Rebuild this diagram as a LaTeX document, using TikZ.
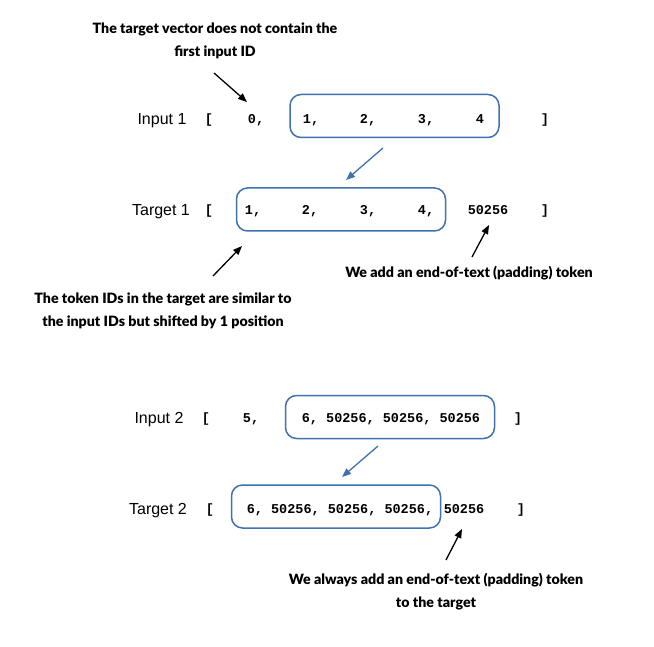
\documentclass[tikz,border=0pt]{standalone}
\usepackage{fontspec}
\setmainfont{Liberation Sans}
\newfontfamily\notefont[BoldFont={Lato Black}]{Lato}
\newfontfamily\codefont{Liberation Mono}
\usetikzlibrary{arrows.meta}
\definecolor{boxblue}{RGB}{62,114,176}
\begin{document}
\begin{tikzpicture}[x=1pt,y=-1pt,
  rowlabel/.style={anchor=base, inner sep=0pt, font=\fontsize{16}{18}\selectfont},
  tok/.style={anchor=base, inner sep=0pt, font=\codefont\bfseries\fontsize{13.5}{15}\selectfont},
  note/.style={align=center, inner sep=0pt, font=\notefont\bfseries\fontsize{14.2}{23}\selectfont},
  idbox/.style={draw=boxblue, line width=1.5pt, rounded corners=11pt, minimum width=209pt, minimum height=43pt, inner sep=0pt},
  callout/.style={-{Triangle[length=9pt,width=7pt]}, line width=1.3pt, black},
  shiftarrow/.style={-{Triangle[length=9pt,width=7pt]}, line width=1.3pt, boxblue}]
\useasboundingbox (0,0) rectangle (654,647);

% --- first example -------------------------------------------------
\node[note] (n1) at (215,40.5) {The target vector does not contain the\\first input ID};

\node[rowlabel] (l1) at (162,125) {Input 1};
\node[tok] (i1o) at (209,124) {[};
\node[tok] (i1a) at (256,124) {0,};
\node[idbox] (b1) at (394.5,116) {};
\node[tok] (i1b) at (311,124) {1,};
\node[tok] (i1c) at (368,124) {2,};
\node[tok] (i1d) at (426,124) {3,};
\node[tok] (i1e) at (480,124) {4};
\node[tok] (i1z) at (545,124) {]};

\node[rowlabel] (l2) at (161,216) {Target 1};
\node[tok] (t1o) at (209,215) {[};
\node[idbox] (b2) at (341,209.5) {};
\node[tok] (t1a) at (253,215) {1,};
\node[tok] (t1b) at (310,215) {2,};
\node[tok] (t1c) at (368,215) {3,};
\node[tok] (t1d) at (426,215) {4,};
\node[tok] (t1e) at (488,215) {50256};
\node[tok] (t1z) at (545,215) {]};

\node[note] (n2) at (469,273) {We add an end-of-text (padding) token};
\node[note] (n3) at (163,311) {The token IDs in the target are similar to\\the input IDs but shifted by 1 position};

\coordinate (a1s) at (214,73);  \coordinate (a1e) at (247,102);
\coordinate (s1s) at (383,148); \coordinate (s1e) at (346,180);
\coordinate (a2s) at (472,257); \coordinate (a2e) at (489,225);
\coordinate (a3s) at (213,276); \coordinate (a3e) at (242,246);
\draw[callout] (a1s) -- (a1e);
\draw[shiftarrow] (s1s) -- (s1e);
\draw[callout] (a2s) -- (a2e);
\draw[callout] (a3s) -- (a3e);

% --- second example ------------------------------------------------
\node[rowlabel] (l3) at (159,423) {Input 2};
\node[tok] (i2o) at (206,422) {[};
\node[tok] (i2a) at (251,422) {5,};
\node[idbox] (b3) at (390,417) {};
\node[tok] (i2b) at (391,422) {6, 50256, 50256, 50256};
\node[tok] (i2z) at (518,422) {]};

\node[rowlabel] (l4) at (158,514) {Target 2};
\node[tok] (t2o) at (210,513) {[};
\node[idbox] (b4) at (336,506.5) {};
\node[tok] (t2a) at (340,513) {6, 50256, 50256, 50256,};
\node[tok] (t2b) at (464,513) {50256};
\node[tok] (t2z) at (521,513) {]};

\node[note] (n4) at (436,592) {We always add an end-of-text (padding) token\\to the target};

\coordinate (s2s) at (378,446); \coordinate (s2e) at (342,477);
\coordinate (a4s) at (446,560); \coordinate (a4e) at (462,529);
\draw[shiftarrow] (s2s) -- (s2e);
\draw[callout] (a4s) -- (a4e);
\end{tikzpicture}
\end{document}
